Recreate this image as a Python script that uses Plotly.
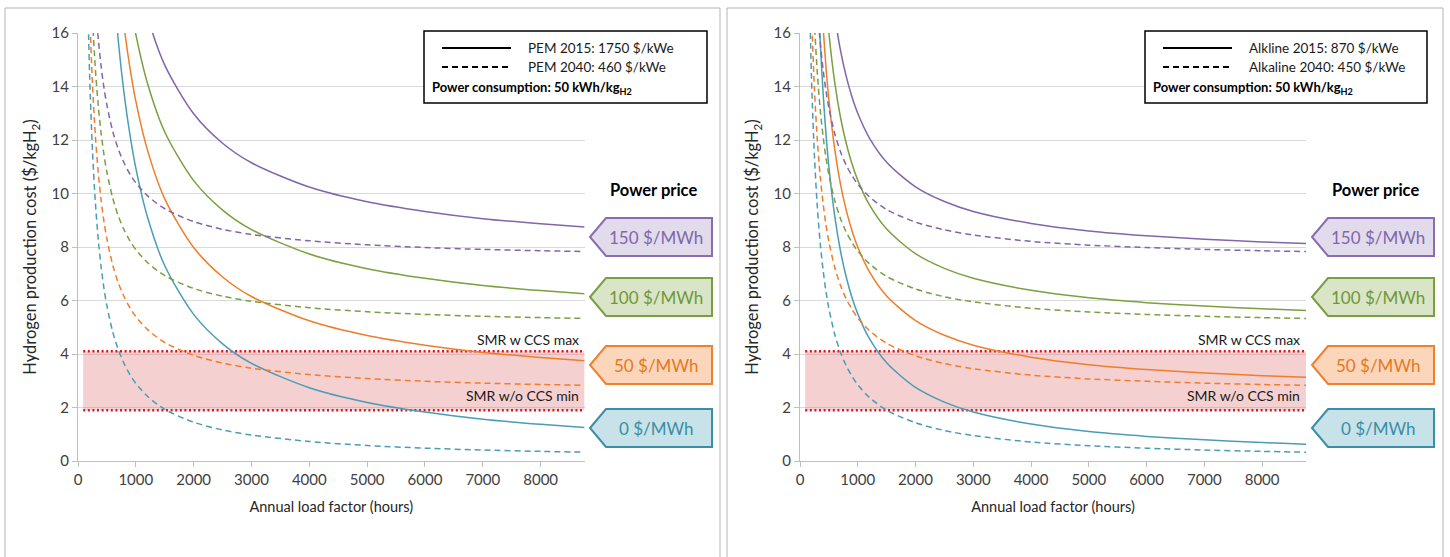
import plotly.graph_objects as go

W, H = 1450, 557

# ---------------- data ----------------
HOURS = [150, 200, 250, 300, 350, 400, 450, 500, 600, 700, 800, 900, 1000,
         1200, 1500, 2000, 2500, 3000, 4000, 5000, 6000, 7000, 8000, 8760]
N = None

# PEM 2015 (solid), by power price
PEM15_0 = [N, N, N, N, N, N, N, N, 18.25, 15.64, 13.69, 12.17, 10.95, 9.13, 7.30, 5.48, 4.38, 3.65, 2.74, 2.19, 1.83, 1.56, 1.37, 1.25]
PEM15_50 = [N, N, N, N, N, N, N, N, N, 18.14, 16.19, 14.67, 13.45, 11.63, 9.80, 7.98, 6.88, 6.15, 5.24, 4.69, 4.33, 4.06, 3.87, 3.75]
PEM15_100 = [N, N, N, N, N, N, N, N, N, N, 18.69, 17.17, 15.95, 14.13, 12.30, 10.48, 9.38, 8.65, 7.74, 7.19, 6.83, 6.56, 6.37, 6.25]
PEM15_150 = [N, N, N, N, N, N, N, N, N, N, N, N, 18.45, 16.63, 14.80, 12.98, 11.88, 11.15, 10.24, 9.69, 9.33, 9.06, 8.87, 8.75]
# PEM 2040 (dashed)
PEM40_0 = [19.33, 14.5, 11.6, 9.67, 8.29, 7.25, 6.44, 5.8, 4.83, 4.14, 3.63, 3.22, 2.9, 2.42, 1.93, 1.45, 1.16, 0.97, 0.73, 0.58, 0.48, 0.41, 0.36, 0.33]
PEM40_50 = [21.83, 17.0, 14.1, 12.17, 10.79, 9.75, 8.94, 8.3, 7.33, 6.64, 6.13, 5.72, 5.4, 4.92, 4.43, 3.95, 3.66, 3.47, 3.23, 3.08, 2.98, 2.91, 2.86, 2.83]
PEM40_100 = [24.33, 19.5, 16.6, 14.67, 13.29, 12.25, 11.44, 10.8, 9.83, 9.14, 8.63, 8.22, 7.9, 7.42, 6.93, 6.45, 6.16, 5.97, 5.73, 5.58, 5.48, 5.41, 5.36, 5.33]
PEM40_150 = [26.83, 22.0, 19.1, 17.17, 15.79, 14.75, 13.94, 13.3, 12.33, 11.64, 11.13, 10.72, 10.4, 9.92, 9.43, 8.95, 8.66, 8.47, 8.23, 8.08, 7.98, 7.91, 7.86, 7.83]

# Alkaline 2015 (solid)
ALK15_0 = [N, N, N, 18.33, 15.71, 13.75, 12.22, 11.0, 9.17, 7.86, 6.88, 6.11, 5.5, 4.58, 3.67, 2.75, 2.2, 1.83, 1.38, 1.1, 0.92, 0.79, 0.69, 0.63]
ALK15_50 = [N, N, N, N, 18.21, 16.25, 14.72, 13.5, 11.67, 10.36, 9.38, 8.61, 8.0, 7.08, 6.17, 5.25, 4.7, 4.33, 3.88, 3.6, 3.42, 3.29, 3.19, 3.13]
ALK15_100 = [N, N, N, N, N, 18.75, 17.22, 16.0, 14.17, 12.86, 11.88, 11.11, 10.5, 9.58, 8.67, 7.75, 7.2, 6.83, 6.38, 6.1, 5.92, 5.79, 5.69, 5.63]
ALK15_150 = [N, N, N, N, N, N, N, 18.5, 16.67, 15.36, 14.38, 13.61, 13.0, 12.08, 11.17, 10.25, 9.7, 9.33, 8.88, 8.6, 8.42, 8.29, 8.19, 8.13]
# Alkaline 2040 (dashed)
ALK40_0 = [19.0, 14.25, 11.4, 9.5, 8.14, 7.13, 6.33, 5.7, 4.75, 4.07, 3.56, 3.17, 2.85, 2.38, 1.9, 1.43, 1.14, 0.95, 0.71, 0.57, 0.48, 0.41, 0.36, 0.33]
ALK40_50 = [21.5, 16.75, 13.9, 12.0, 10.64, 9.63, 8.83, 8.2, 7.25, 6.57, 6.06, 5.67, 5.35, 4.88, 4.4, 3.93, 3.64, 3.45, 3.21, 3.07, 2.98, 2.91, 2.86, 2.83]
ALK40_100 = [24.0, 19.25, 16.4, 14.5, 13.14, 12.13, 11.33, 10.7, 9.75, 9.07, 8.56, 8.17, 7.85, 7.38, 6.9, 6.43, 6.14, 5.95, 5.71, 5.57, 5.48, 5.41, 5.36, 5.33]
ALK40_150 = [26.5, 21.75, 18.9, 17.0, 15.64, 14.63, 13.83, 13.2, 12.25, 11.57, 11.06, 10.67, 10.35, 9.88, 9.4, 8.93, 8.64, 8.45, 8.21, 8.07, 7.98, 7.91, 7.86, 7.83]

PRICE_LABELS = ["0 $/MWh", "50 $/MWh", "100 $/MWh", "150 $/MWh"]
SMR_MAX = 4.1
SMR_MIN = 1.9
SMR_HOURS = [90, 8760]
X_TICKS = [0, 1000, 2000, 3000, 4000, 5000, 6000, 7000, 8000]
Y_TICKS = [0, 2, 4, 6, 8, 10, 12, 14, 16]
LEGEND_LEFT = ["PEM 2015: 1750 $/kWe", "PEM 2040: 460 $/kWe"]
LEGEND_RIGHT = ["Alkline 2015: 870 $/kWe", "Alkaline 2040: 450 $/kWe"]

# ---------------- styles ----------------
FONT = "Lato, 'Open Sans', sans-serif"
LINE_COLORS = ["#4a9db5", "#f07d28", "#7aa03f", "#8066aa"]
BOX_FILL = ["#c8e2e9", "#fbd6ba", "#d9e5c6", "#e1dbec"]
BOX_LINE = ["#3a8ea5", "#f08030", "#77a043", "#8a6db0"]
TXT_COL = ["#3a8ea5", "#e8761e", "#6f983a", "#8066aa"]


def px(x):
    return x / W


def py(y):
    return 1 - y / H


fig = go.Figure()

panels = [
    dict(xa="x", ya="y", xd=[px(78), px(584.6)], solid=[PEM15_0, PEM15_50, PEM15_100, PEM15_150],
         dashed=[PEM40_0, PEM40_50, PEM40_100, PEM40_150], off=0, leg=LEGEND_LEFT),
    dict(xa="x2", ya="y2", xd=[px(800), px(1306)], solid=[ALK15_0, ALK15_50, ALK15_100, ALK15_150],
         dashed=[ALK40_0, ALK40_50, ALK40_100, ALK40_150], off=722, leg=LEGEND_RIGHT),
]

ydom = [py(461), py(33)]
shapes = []
annotations = []

for i, p in enumerate(panels):
    xa, ya = p["xa"], p["ya"]
    # SMR band
    fig.add_trace(go.Scatter(x=SMR_HOURS, y=[SMR_MIN, SMR_MIN], mode="lines", line=dict(width=0),
                             xaxis=xa, yaxis=ya, showlegend=False, hoverinfo="skip"))
    fig.add_trace(go.Scatter(x=SMR_HOURS, y=[SMR_MAX, SMR_MAX], mode="lines", line=dict(width=0),
                             fill="tonexty", fillcolor="rgba(226,120,120,0.35)",
                             xaxis=xa, yaxis=ya, showlegend=False, hoverinfo="skip"))
    for lvl in (SMR_MAX, SMR_MIN):
        fig.add_trace(go.Scatter(x=SMR_HOURS, y=[lvl, lvl], mode="lines",
                                 line=dict(color="#e0141e", width=2.5, dash="2px,2.6px"),
                                 xaxis=xa, yaxis=ya, showlegend=False, hoverinfo="skip"))
    # curves
    for k in range(4):
        fig.add_trace(go.Scatter(x=HOURS, y=p["dashed"][k], mode="lines",
                                 line=dict(color=LINE_COLORS[k], width=1.5, dash="6px,4px", shape="spline", smoothing=0.8),
                                 xaxis=xa, yaxis=ya, showlegend=False, connectgaps=False))
        fig.add_trace(go.Scatter(x=HOURS, y=p["solid"][k], mode="lines",
                                 line=dict(color=LINE_COLORS[k], width=1.5, shape="spline", smoothing=0.8),
                                 xaxis=xa, yaxis=ya, showlegend=False, connectgaps=False))

    o = p["off"]
    # panel border
    shapes.append(dict(type="rect", xref="paper", yref="paper", x0=px(5 + o), x1=px(720 + o + (1 if o else 0)),
                       y0=-0.05, y1=py(8), line=dict(color="#b4b4b4", width=1), fillcolor="rgba(0,0,0,0)"))
    # legend box
    lx0, lx1 = (424, 707) if o == 0 else (1145, 1427)
    shapes.append(dict(type="rect", xref="paper", yref="paper", x0=px(lx0), x1=px(lx1), y0=py(103), y1=py(31),
                       line=dict(color="black", width=1.5), fillcolor="white"))
    shapes.append(dict(type="line", xref="paper", yref="paper", x0=px(lx0 + 18), x1=px(lx0 + 87), y0=py(48), y1=py(48),
                       line=dict(color="black", width=2)))
    shapes.append(dict(type="line", xref="paper", yref="paper", x0=px(lx0 + 18), x1=px(lx0 + 87), y0=py(67), y1=py(67),
                       line=dict(color="black", width=2, dash="6px,4px")))
    tx = lx0 + 102
    annotations.append(dict(xref="paper", yref="paper", x=px(tx), y=py(48), text=p["leg"][0], showarrow=False,
                            xanchor="left", yanchor="middle", font=dict(size=13.5, color="#1a1a1a")))
    annotations.append(dict(xref="paper", yref="paper", x=px(tx), y=py(67), text=p["leg"][1], showarrow=False,
                            xanchor="left", yanchor="middle", font=dict(size=13.5, color="#1a1a1a")))
    annotations.append(dict(xref="paper", yref="paper", x=px(lx0 + 6), y=py(88),
                            text="<b>Power consumption: 50 kWh/kg<sub>H2</sub></b>", showarrow=False,
                            xanchor="left", yanchor="middle", font=dict(size=13, color="black")))
    # SMR labels
    annotations.append(dict(xref=xa, yref=ya, x=SMR_HOURS[1], y=SMR_MAX, text="SMR w CCS max", showarrow=False,
                            xanchor="right", yanchor="bottom", xshift=-4, yshift=1, font=dict(size=14, color="#1a1a1a")))
    annotations.append(dict(xref=xa, yref=ya, x=SMR_HOURS[1], y=SMR_MIN, text="SMR w/o CCS min", showarrow=False,
                            xanchor="right", yanchor="bottom", xshift=-4, yshift=4, font=dict(size=14, color="#1a1a1a")))
    # Power price title and arrow labels
    annotations.append(dict(xref="paper", yref="paper", x=px(653 + o), y=py(190), text="<b>Power price</b>",
                            showarrow=False, xanchor="center", yanchor="middle", font=dict(size=16.5, color="black")))
    centers = [428, 365, 297, 237]
    for k in range(4):
        cy = centers[k]
        x_tip, x_neck, x_end = 590 + o, 606 + o, 712 + o
        t, b = cy - 19, cy + 19
        path = (f"M {px(x_tip)},{py(cy)} L {px(x_neck)},{py(t)} L {px(x_end)},{py(t)} "
                f"L {px(x_end)},{py(b)} L {px(x_neck)},{py(b)} Z")
        shapes.append(dict(type="path", xref="paper", yref="paper", path=path, fillcolor=BOX_FILL[k],
                           line=dict(color=BOX_LINE[k], width=2)))
        annotations.append(dict(xref="paper", yref="paper", x=px(656 + o), y=py(cy), text=PRICE_LABELS[k],
                                showarrow=False, xanchor="center", yanchor="middle",
                                font=dict(size=17, color=TXT_COL[k])))

axis_common = dict(showline=True, linecolor="#bfbfbf", linewidth=1, ticks="outside", ticklen=5,
                   tickcolor="#bfbfbf", tickfont=dict(size=15, color="#404040", family=FONT), zeroline=False,
                   automargin=False)

fig.update_layout(
    width=W, height=H, margin=dict(l=0, r=0, t=0, b=0, pad=0, autoexpand=False),
    paper_bgcolor="white", plot_bgcolor="white",
    font=dict(family=FONT, color="#1a1a1a"),
    showlegend=False,
    shapes=shapes, annotations=annotations,
    xaxis=dict(domain=panels[0]["xd"], anchor="y", range=[0, 8760], tickvals=X_TICKS, showgrid=False,
               title=dict(text="Annual load factor (hours)", font=dict(size=14.5, color="#262626"), standoff=14),
               **axis_common),
    yaxis=dict(domain=ydom, anchor="x", range=[0, 16], tickvals=Y_TICKS, showgrid=True, gridcolor="#d9d9d9",
               title=dict(text="Hydrogen production cost ($/kgH<sub>2</sub>)", font=dict(size=16.5, color="#262626"), standoff=10),
               **axis_common),
    xaxis2=dict(domain=panels[1]["xd"], anchor="y2", range=[0, 8760], tickvals=X_TICKS, showgrid=False,
                title=dict(text="Annual load factor (hours)", font=dict(size=14.5, color="#262626"), standoff=14),
                **axis_common),
    yaxis2=dict(domain=ydom, anchor="x2", range=[0, 16], tickvals=Y_TICKS, showgrid=True, gridcolor="#d9d9d9",
                title=dict(text="Hydrogen production cost ($/kgH<sub>2</sub>)", font=dict(size=16.5, color="#262626"), standoff=10),
                **axis_common),
)

fig.write_html("out.html", config={"displayModeBar": False},
               post_script="document.body.style.margin='0';document.body.style.overflow='hidden';")
